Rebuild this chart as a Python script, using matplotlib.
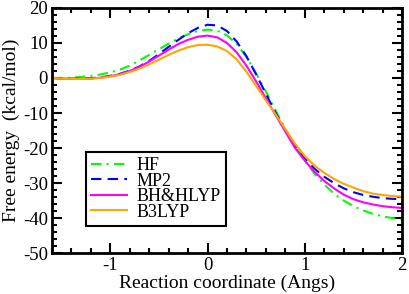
import matplotlib
matplotlib.use("Agg")
import matplotlib.pyplot as plt
from matplotlib.ticker import MultipleLocator

plt.rcParams['font.family'] = ['Liberation Serif', 'DejaVu Serif']

x = [-1.6, -1.5, -1.4, -1.3, -1.2, -1.1, -1.0, -0.9, -0.8, -0.7, -0.6, -0.5,
     -0.4, -0.3, -0.2, -0.1, 0.0, 0.1, 0.2, 0.3, 0.4, 0.5, 0.6, 0.7, 0.8,
     0.9, 1.0, 1.1, 1.2, 1.3, 1.4, 1.5, 1.6, 1.7, 1.8, 1.9, 2.0]

hf = [0.0, 0.0, 0.1, 0.3, 0.6, 1.0, 1.6, 2.4, 3.5, 5.0, 6.6, 8.2,
      9.8, 11.3, 12.5, 13.4, 13.8, 13.5, 12.2, 9.7, 6.0, 1.3, -3.9, -9.3, -14.5,
      -19.3, -23.6, -27.3, -30.4, -33.0, -35.0, -36.6, -37.8, -38.8, -39.5, -40.0, -40.4]

mp2 = [0.0, -0.1, -0.2, -0.2, -0.05, 0.2, 0.6, 1.2, 2.1, 3.3, 4.9, 6.8,
       8.9, 10.9, 12.8, 14.3, 15.2, 15.0, 13.4, 10.4, 6.2, 1.0, -4.5, -10.0, -15.0,
       -19.4, -23.0, -25.9, -28.2, -30.0, -31.5, -32.6, -33.4, -33.9, -34.3, -34.5, -34.6]

bhh = [0.0, -0.15, -0.25, -0.25, -0.15, 0.1, 0.5, 1.1, 2.0, 3.2, 4.7, 6.4,
       8.1, 9.7, 10.9, 11.8, 12.1, 11.6, 10.0, 7.3, 3.5, -1.0, -5.8, -10.6, -15.3,
       -20.0, -23.6, -26.8, -29.4, -31.5, -33.3, -34.6, -35.5, -36.1, -36.6, -36.9, -37.1]

b3lyp = [0.0, -0.15, -0.25, -0.3, -0.2, 0.05, 0.4, 0.9, 1.7, 2.7, 3.9, 5.2,
         6.6, 7.8, 8.8, 9.4, 9.5, 9.0, 7.7, 5.3, 1.8, -2.3, -6.4, -10.4, -14.6,
         -18.8, -22.3, -25.0, -27.1, -28.8, -30.2, -31.3, -32.3, -33.0, -33.4, -33.7, -33.9]

labels = ["HF", "MP2", "BH&HLYP", "B3LYP"]
xticks = [-1, 0, 1, 2]
yticks = [20, 10, 0, -10, -20, -30, -40, -50]

fig = plt.figure(figsize=(4.09, 2.94), dpi=100)
ax = fig.add_axes([0.127, 0.139, 0.856, 0.834])

lw = 1.5
ax.plot(x, hf, color='#00ff00', lw=lw, dashes=[5, 2.5, 1, 2.5], label=labels[0])
ax.plot(x, mp2, color='#0000ff', lw=lw, dashes=[5, 3], label=labels[1])
ax.plot(x, bhh, color='#ff00ff', lw=lw, label=labels[2])
ax.plot(x, b3lyp, color='#ffa500', lw=lw, label=labels[3])

ax.set_xlim(-1.6, 2)
ax.set_ylim(-50, 20)
ax.set_xticks(xticks)
ax.set_xticklabels([str(t) for t in xticks])
ax.set_yticks(yticks)
ax.set_yticklabels([str(t) for t in yticks])
ax.xaxis.set_minor_locator(MultipleLocator(0.2))
ax.yaxis.set_minor_locator(MultipleLocator(2))
ax.tick_params(which='both', direction='in', top=True, right=True, width=1.5,
               labelsize=13.5, pad=3)
ax.tick_params(which='major', length=7)
ax.tick_params(which='minor', length=3.5)
for s in ax.spines.values():
    s.set_linewidth(2)

ax.set_xlabel("Reaction coordinate (Angs)", fontsize=14, labelpad=0)
ax.set_ylabel("Free energy  (kcal/mol)", fontsize=14, labelpad=2)

leg = ax.legend(loc='lower left', bbox_to_anchor=(0.097, 0.11), borderaxespad=0,
                fontsize=13, frameon=True, fancybox=False, edgecolor='black',
                framealpha=1, labelspacing=-0.08, handlelength=2.0, handletextpad=0.5,
                borderpad=0.3)
leg.get_frame().set_linewidth(1.5)

fig.savefig("out.png", dpi=100)
